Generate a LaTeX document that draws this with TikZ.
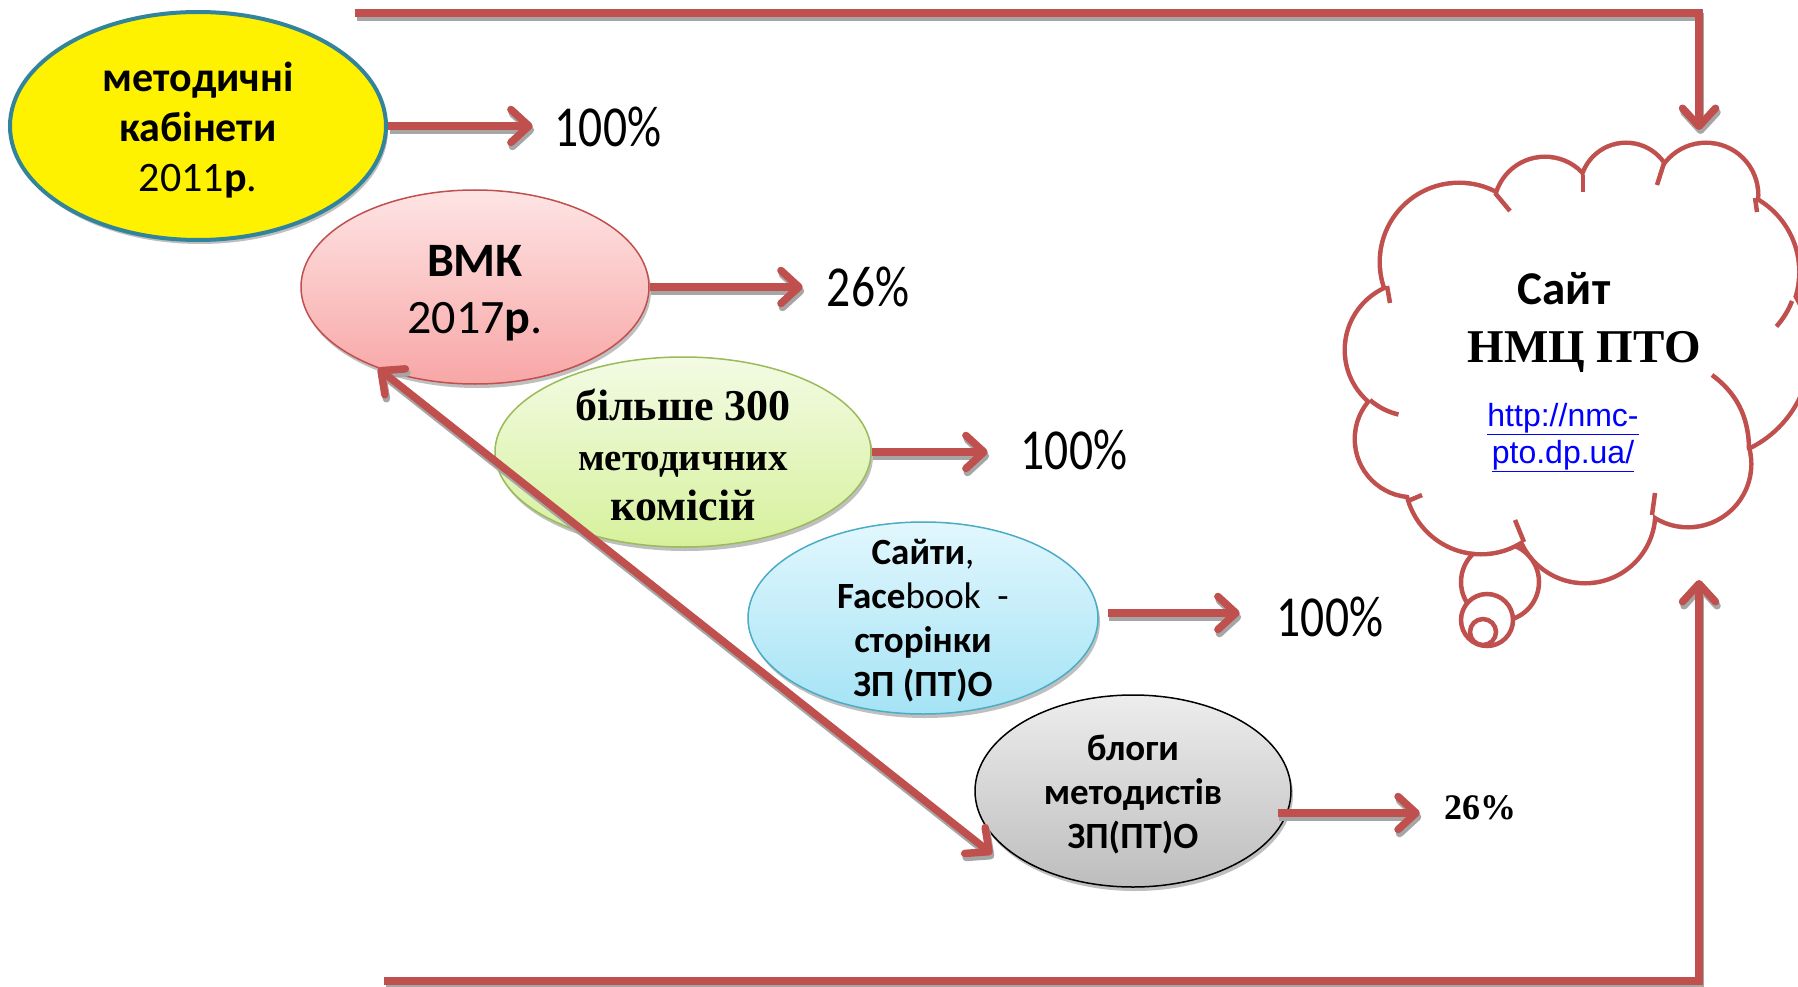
\documentclass[tikz,border=0pt]{standalone}
\usepackage{fontspec}
\setmainfont{Carlito}
\newfontfamily\calib{Carlito}
\newfontfamily\pctf[FakeStretch=0.82]{Carlito}
\newfontfamily\tnr{Liberation Serif}
\newfontfamily\arl{Liberation Sans}
\usetikzlibrary{shapes.geometric,arrows.meta,shadows}
\definecolor{arrowred}{HTML}{C0504D}
\definecolor{shgray}{HTML}{A6A6A6}
\definecolor{yelbord}{HTML}{31849B}
\definecolor{pinktop}{HTML}{FEE4E4}
\definecolor{pinkbot}{HTML}{F8A6A6}
\definecolor{greentop}{HTML}{F3FBE4}
\definecolor{greenbot}{HTML}{D6F19C}
\definecolor{greenbord}{HTML}{9BBB59}
\definecolor{bluetop}{HTML}{E2F7FD}
\definecolor{bluebot}{HTML}{A4E3F5}
\definecolor{bluebord}{HTML}{4BACC6}
\definecolor{greytop}{HTML}{EDEDED}
\definecolor{greybot}{HTML}{BDBDBD}
\definecolor{linkblue}{HTML}{0000FF}
\newcommand\shadarrow[2]{%
  \draw[#1,line width=7.5pt,draw=shgray,transform canvas={shift={(1.5pt,-4pt)}}] #2;
  \draw[#1,line width=7.5pt,draw=arrowred] #2;}
\begin{document}
\begin{tikzpicture}[x=1pt,y=-1pt,
  >={Straight Barb[length=18pt,width=33pt,round]},
  ell/.style={ellipse,inner sep=0pt,line width=1.5pt,
    drop shadow={shadow xshift=2pt,shadow yshift=-4pt,fill=black!45,opacity=0.55}},
  pct/.style={font=\pctf\fontsize{58}{60}\selectfont,inner sep=0pt},
  ctext/.style={align=center,inner sep=0pt},
  cloudline/.style={draw=arrowred,line width=9pt},
  cloudtick/.style={draw=arrowred,line width=4.5pt},
  bubble/.style={draw=arrowred,line width=4.5pt,fill=white}
  ]
\useasboundingbox (0,0) rectangle (1798,987);
\fill[white] (0,0) rectangle (1798,987);

% ---- cloud with bubbles ----
\draw[bubble] (1500,582) circle[radius=39];
\draw[bubble] (1487,620) circle[radius=26];
\draw[bubble] (1483,632) circle[radius=13];
\foreach \cx/\cy/\r in {1413/350/66,1459/262/77,1545/208/49,1626/189/44,1706/195/50,1715/272/82,1702/351/106,1688/464/61,1585/513/68,1481/478/74,1413/439/56}
  \draw[cloudline] (\cx,\cy) circle[radius=\r];
\foreach \cx/\cy/\r in {1413/350/66,1459/262/77,1545/208/49,1626/189/44,1706/195/50,1715/272/82,1702/351/106,1688/464/61,1585/513/68,1481/478/74,1413/439/56}
  \fill[white] (\cx,\cy) circle[radius=\r];
\fill[white] (1413,350) -- (1459,262) -- (1545,208) -- (1626,189) -- (1706,195) -- (1715,272) -- (1702,351) -- (1688,464) -- (1585,513) -- (1481,478) -- (1413,439) -- cycle;
% inner ticks of the cloud
\draw[cloudtick] (1387,286) -- (1390,303);
\draw[cloudtick] (1495,193) -- (1510,211);
\draw[cloudtick] (1583,175) -- (1583,192);
\draw[cloudtick] (1664,163) -- (1657,185);
\draw[cloudtick] (1755,198) -- (1757,212);
\draw[cloudtick] (1792,301) arc[start angle=21,end angle=42,radius=82];
\draw[cloudtick] (1749,450) .. controls (1749,415) and (1735,392) .. (1712,375);
\draw[cloudtick] (1652,515) -- (1655,493);
\draw[cloudtick] (1524,542) -- (1515,520);
\draw[cloudtick] (1408,501) -- (1422,495);
\draw[cloudtick] (1370,400) arc[start angle=131,end angle=103,radius=66];
\coordinate (cloud) at (1575,362);

\node[anchor=base,inner sep=0pt,font=\calib\bfseries\fontsize{47}{50}\selectfont] (cs) at (1564,304) {Сайт};
\node[anchor=base,inner sep=0pt,font=\tnr\bfseries\fontsize{47}{50}\selectfont] (cn) at (1584,362) {НМЦ ПТО};
\node[anchor=base,inner sep=0pt,font=\arl\fontsize{32}{36}\selectfont,text=linkblue] (cl1) at (1563,426) {\underline{http://nmc-}};
\node[anchor=base,inner sep=0pt,font=\arl\fontsize{32}{36}\selectfont,text=linkblue] (cl2) at (1563,463) {\underline{pto.dp.ua/}};

% ---- ellipses ----
\node[ell,minimum width=376pt,minimum height=228pt,fill=yellow,draw=yelbord,line width=4pt] (yel) at (198,126) {};
\node[ell,minimum width=348pt,minimum height=194pt,top color=pinktop,bottom color=pinkbot,draw=arrowred] (pink) at (475,287) {};
\node[ell,minimum width=376pt,minimum height=190pt,top color=greentop,bottom color=greenbot,draw=greenbord] (green) at (683,452) {};
\node[ell,minimum width=350pt,minimum height=192pt,top color=bluetop,bottom color=bluebot,draw=bluebord] (blue) at (923,618) {};
\node[ell,minimum width=316pt,minimum height=192pt,top color=greytop,bottom color=greybot,draw=black] (grey) at (1133,791) {};

\node[ctext,font=\calib\fontsize{42}{50}\selectfont] (yelt) at (198,130) {\textbf{методичні}\\\textbf{кабінети}\\2011\textbf{р}.};
\node[ctext,font=\calib\fontsize{48}{57}\selectfont] (pinkt) at (475,293) {\textbf{ВМК}\\2017\textbf{р}.};
\node[ctext,font=\tnr\bfseries\fontsize{44}{50}\selectfont] (greent) at (683,455) {більше 300\\{\fontsize{39}{50}\selectfont методичних}\\комісій};
\node[ctext,font=\calib\fontsize{37}{44}\selectfont] (bluet) at (923,621) {\textbf{Сайти},\\\textbf{Face}book\ \ -\\\textbf{сторінки}\\\textbf{ЗП (ПТ)О}};
\node[ctext,font=\calib\bfseries\fontsize{37}{44}\selectfont] (greyt) at (1133,795) {блоги\\методистів\\ЗП(ПТ)О};

% ---- percentages ----
\node[pct] (t1) at (608,127) {100\%};
\node[pct] (t2) at (868,287) {26\%};
\node[pct] (t3) at (1074,450) {100\%};
\node[pct] (t4) at (1330,617) {100\%};
\node[inner sep=0pt,font=\tnr\bfseries\fontsize{36}{40}\selectfont] (t5) at (1480,808) {26\%};

% ---- arrows ----
\shadarrow{->,shorten >=22pt}{(yel.east) -- (yel.east -| t1.west)}
\shadarrow{->,shorten >=24pt}{(pink.east) -- (pink.east -| t2.west)}
\shadarrow{->,shorten >=33pt}{(green.east) -- (green.east -| t3.west)}
\coordinate (b0) at ([xshift=9pt,yshift=5pt]blue.east);
\shadarrow{->,shorten >=37pt}{(b0) -- (b0 -| t4.west)}
\coordinate (g0) at ([xshift=-14pt,yshift=-22pt]grey.east);
\shadarrow{->,shorten >=24pt}{(g0) -- (g0 -| t5.west)}

\coordinate (dg) at ([xshift=-141pt,yshift=-63pt]grey.center);
\shadarrow{<->}{(pink.220) -- (dg)}

\coordinate (tl) at (355,13);
\coordinate (tr) at (1699,13);
\coordinate (ttip) at (1699,130);
\shadarrow{->}{(tl) -- (tr) -- (ttip)}
\coordinate (bl) at (384,981);
\coordinate (br) at (1699,981);
\coordinate (btip) at (1699,580);
\shadarrow{->}{(bl) -- (br) -- (btip)}
\end{tikzpicture}
\end{document}
